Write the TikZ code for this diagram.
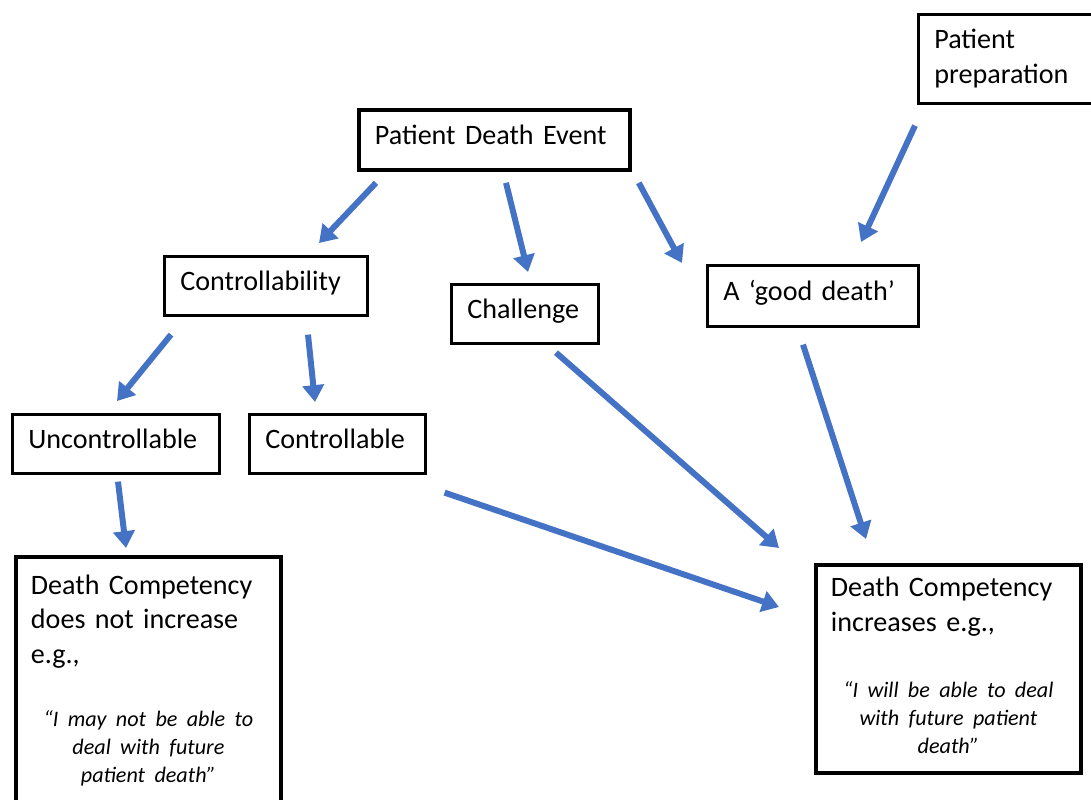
\documentclass[tikz,border=0pt]{standalone}
\usepackage{fontspec}
\setmainfont{Carlito}
\usetikzlibrary{arrows.meta}
\definecolor{flowblue}{HTML}{4472C4}
\newcommand{\quotefont}{\fontsize{12.6}{15.8}\selectfont\itshape}
\begin{document}
\begin{tikzpicture}[x=0.02cm, y=-0.02cm,
  box/.style={draw, line width=1.5pt, anchor=north west, inner xsep=0.32cm, inner ysep=0pt, align=left, font=\fontsize{16}{19.8}\selectfont},
  onebox/.style={box, text height=0.75em, text depth=0.25em, minimum height=1.18cm},
  bigbox/.style={box, line width=2.2pt, inner xsep=0.3cm, text width=4.7cm},
  flow/.style={draw=flowblue, line width=3.4pt, -{Triangle[length=9.6pt, width=12pt]}}]
\useasboundingbox (0,0) rectangle (1091,799);

\node[box, text width=2.96cm, minimum height=1.78cm] (prep) at (917,13) {Patient\\preparation};
\node[onebox, line width=2.2pt, text width=4.78cm, minimum height=1.2cm] (event) at (357,108) {Patient Death Event};
\node[onebox, text width=3.42cm] (ctrl) at (163,255) {Controllability};
\node[onebox, text width=2.3cm] (chal) at (450,283) {Challenge};
\node[onebox, text width=3.58cm, minimum height=1.22cm] (good) at (706,264) {A ‘good death’};
\node[onebox, text width=3.5cm] (unc) at (11,413) {Uncontrollable};
\node[onebox, text width=2.88cm] (con) at (248,413) {Controllable};

\node[bigbox] (notinc) at (14,555) {\vbox to 5.2cm{\vskip 10pt\noindent Death Competency\\ does not increase\\ e.g.,\par\vskip 20pt
  {\centering\quotefont “I may not be able to\\ deal with future\\ patient death”\par}\vfil}};
\node[bigbox] (inc) at (814,563) {\vbox to 4.16cm{\vskip 7pt\noindent Death Competency\\ increases e.g.,\par\vskip 22pt
  {\centering\quotefont “I will be able to deal\\ with future patient\\ death”\par}\vfil}};

\draw[flow] ([shift={(19,11)}]event.south west) -- ([shift={(156,-12)}]ctrl.north west);
\draw[flow] ([shift={(149,11)}]event.south west) -- ([shift={(78,-11)}]chal.north west);
\draw[flow] ([shift={(7,11)}]event.south east) -- ([shift={(-24,-1)}]good.north west);
\draw[flow] ([shift={(-2,21)}]prep.south west) -- ([shift={(155,-22)}]good.north west);
\draw[flow] ([shift={(8,18)}]ctrl.south west) -- ([shift={(106,-12)}]unc.north west);
\draw[flow] ([shift={(145,18)}]ctrl.south west) -- ([shift={(67,-11)}]con.north west);
\draw[flow] ([shift={(107,7)}]unc.south west) -- ([shift={(112,-7)}]notinc.north west);
\draw[flow] ([shift={(106,8)}]chal.south west) -- ([shift={(-35,-15)}]inc.north west);
\draw[flow] ([shift={(97,17)}]good.south west) -- ([shift={(52,-24)}]inc.north west);
\draw[flow] ([shift={(18,18)}]con.south east) -- ([shift={(-35,44)}]inc.north west);
\end{tikzpicture}
\end{document}
